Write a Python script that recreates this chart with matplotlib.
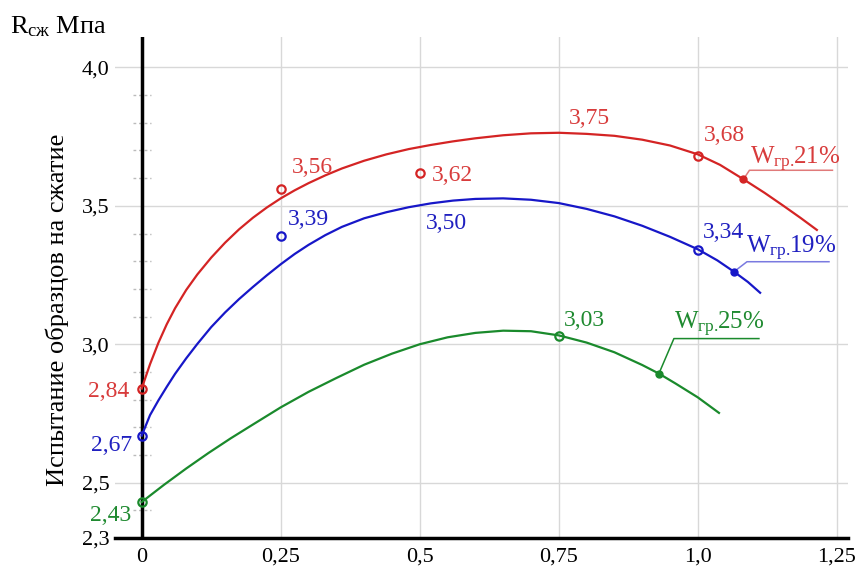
import numpy as np
import matplotlib
matplotlib.use("Agg")
import matplotlib.pyplot as plt

plt.rcParams['font.family'] = ['Liberation Serif', 'DejaVu Serif']
plt.rcParams['mathtext.fontset'] = 'custom'
plt.rcParams['mathtext.rm'] = 'Liberation Serif'
plt.rcParams['mathtext.it'] = 'Liberation Serif:italic'

# curves
red_x = [0, 0.015, 0.03, 0.045, 0.06, 0.08, 0.10, 0.125, 0.15, 0.175, 0.20, 0.225, 0.25,
         0.275, 0.30, 0.33, 0.36, 0.40, 0.44, 0.48, 0.52, 0.56, 0.60, 0.65, 0.70, 0.75,
         0.80, 0.85, 0.90, 0.95, 1.0, 1.04, 1.082, 1.12, 1.154, 1.185, 1.214]
red_y = [2.84, 2.928, 3.005, 3.072, 3.130, 3.196, 3.252, 3.313, 3.367, 3.415, 3.457, 3.494,
         3.527, 3.556, 3.582, 3.610, 3.635, 3.663, 3.686, 3.705, 3.720, 3.733, 3.744, 3.755,
         3.762, 3.764, 3.760, 3.753, 3.739, 3.718, 3.686, 3.648, 3.596, 3.547, 3.500, 3.456,
         3.413]

blue_x = [0, 0.015, 0.03, 0.045, 0.06, 0.08, 0.10, 0.125, 0.15, 0.175, 0.20, 0.225, 0.25,
          0.275, 0.30, 0.33, 0.36, 0.40, 0.44, 0.48, 0.52, 0.56, 0.60, 0.65, 0.70, 0.75,
          0.80, 0.85, 0.90, 0.95, 1.0, 1.035, 1.065, 1.09, 1.112]
blue_y = [2.67, 2.744, 2.797, 2.846, 2.893, 2.949, 3.001, 3.062, 3.115, 3.163, 3.207, 3.249,
          3.289, 3.326, 3.359, 3.394, 3.424, 3.455, 3.477, 3.495, 3.509, 3.519, 3.525, 3.527,
          3.522, 3.510, 3.489, 3.462, 3.428, 3.388, 3.343, 3.303, 3.262, 3.225, 3.186]

green_x = [0, 0.04, 0.08, 0.12, 0.16, 0.20, 0.25, 0.30, 0.35, 0.40, 0.45, 0.50, 0.55, 0.60,
           0.65, 0.70, 0.75, 0.80, 0.85, 0.90, 0.93, 0.96, 1.0, 1.038]
green_y = [2.43, 2.492, 2.551, 2.607, 2.660, 2.710, 2.772, 2.828, 2.878, 2.926, 2.966, 3.000,
           3.025, 3.041, 3.049, 3.047, 3.032, 3.006, 2.971, 2.925, 2.894, 2.858, 2.808, 2.752]

# measured points (open circles)
red_mx = [0, 0.25, 0.5, 1.0]
red_my = [2.84, 3.56, 3.62, 3.68]
blue_mx = [0, 0.25, 1.0]
blue_my = [2.67, 3.39, 3.34]
green_mx = [0, 0.75]
green_my = [2.43, 3.03]

# value labels: text, x, y
red_labels = [("2,84", 0, 2.84), ("3,56", 0.25, 3.56), ("3,62", 0.5, 3.62),
              ("3,75", 0.75, 3.75), ("3,68", 1.0, 3.68)]
blue_labels = [("2,67", 0, 2.67), ("3,39", 0.25, 3.39), ("3,50", 0.5, 3.50),
               ("3,34", 1.0, 3.34)]
green_labels = [("2,43", 0, 2.43), ("3,03", 0.75, 3.03)]

# series names and the curve point where their leader starts
names = [r"W$_{\mathrm{гр.}\!\!}$21%", r"W$_{\mathrm{гр.}\!\!}$19%", r"W$_{\mathrm{гр.}\!\!}$25%"]
tag_x = [1.082, 1.065, 0.93]
tag_y = [3.596, 3.262, 2.894]

yticks = [2.3, 2.5, 3.0, 3.5, 4.0]
ytick_labels = ["2,3", "2,5", "3,0", "3,5", "4,0"]
xticks = [0, 0.25, 0.5, 0.75, 1.0, 1.25]
xtick_labels = ["0", "0,25", "0,5", "0,75", "1,0", "1,25"]

RED, BLUE, GREEN = '#d42424', '#1717c8', '#1a8a2c'
RED_T, BLUE_T, GREEN_T = '#d83c3c', '#2020c0', '#1f8a30'

fig = plt.figure(figsize=(8.61, 5.72), dpi=100)
ax = fig.add_axes([115 / 861, 1 - 538 / 572, (848 - 115) / 861, (538 - 37) / 572])
ax.set_xlim(-0.048, 1.27)
ax.set_ylim(2.3, 4.11)

for s in ['top', 'right', 'left']:
    ax.spines[s].set_visible(False)
ax.spines['bottom'].set_linewidth(2.5)
ax.set_xticks(xticks)
ax.set_xticklabels(xtick_labels)
ax.set_yticks(yticks)
ax.set_yticklabels(ytick_labels)
ax.tick_params(axis='both', length=0, labelsize=16)
ax.tick_params(axis='x', pad=7)
ax.tick_params(axis='y', pad=4)
ax.grid(True, color='#d8d8d8', lw=1)
ax.set_axisbelow(True)

# small dashed minor marks across the vertical axis
minor = [v for v in np.round(np.arange(2.4, 4.05, 0.1), 1) if v not in yticks]
ax.hlines(minor, -0.016, 0.016, colors='#bbbbbb', linestyles=(0, (2, 2)), lw=1, zorder=2)
ax.axvline(0, color='black', lw=2.5, zorder=3)

series = [
    (red_x, red_y, red_mx, red_my, RED),
    (blue_x, blue_y, blue_mx, blue_my, BLUE),
    (green_x, green_y, green_mx, green_my, GREEN),
]
for cx, cy, mx, my, col in series:
    ax.plot(cx, cy, color=col, lw=1.6, zorder=4, solid_joinstyle='round')
    ax.plot(mx, my, 'o', ms=6, mfc='none', mec=col, mew=1.6, zorder=5)

# label offsets in pixels (dx, dy, ha)
offsets = {
    "2,84": (-12, -3, 'right'), "3,56": (11, 22, 'left'), "3,62": (12, -3, 'left'),
    "3,75": (10, 18, 'left'), "3,68": (6, 21, 'left'),
    "2,67": (-10, -10, 'right'), "3,39": (7, 17, 'left'), "3,50": (6, -18, 'left'),
    "3,34": (5, 18, 'left'),
    "2,43": (-10, -13, 'right'), "3,03": (5, 15, 'left'),
}
for labs, tcol in [(red_labels, RED_T), (blue_labels, BLUE_T), (green_labels, GREEN_T)]:
    for txt, x, y in labs:
        dx, dy, ha = offsets[txt]
        ax.annotate(txt, (x, y), xytext=(dx, dy), textcoords='offset pixels',
                    ha=ha, va='center', color=tcol, fontsize=17, zorder=6)


def shift(x, y, dx, dy):
    X, Y = ax.transData.transform((x, y))
    return ax.transData.inverted().transform((X + dx, Y + dy))


# leader geometry in pixels: corner (dx, dy), line length, text offset
leaders = [((6, 9), 89, (7, 15)), ((13, 10), 95, (12, 18)), ((15, 35), 100, (15, 44))]
lead_cols = ['#e07a7a', '#7a7ae0', GREEN]
for name, x, y, (corner, length, toff), col, lcol, tcol in zip(
        names, tag_x, tag_y, leaders, [RED, BLUE, GREEN], lead_cols, [RED_T, BLUE_T, GREEN_T]):
    ax.plot([x], [y], 'o', ms=5, color=col, zorder=5)
    c = shift(x, y, *corner)
    e = shift(x, y, length, corner[1])
    ax.plot([x, c[0], e[0]], [y, c[1], e[1]], color=lcol, lw=1.1, zorder=4)
    ax.annotate(name, (x, y), xytext=toff, textcoords='offset pixels',
                ha='left', va='baseline', color=tcol, fontsize=18, zorder=6)

fig.text(57 / 861, 1 - 310 / 572, "Испытание образцов на сжатие", rotation=90,
         ha='center', va='center', fontsize=19)
fig.text(10 / 861, 1 - 33 / 572, r"R$_{\mathrm{сж}}$ Мпа", ha='left', va='baseline',
         fontsize=19)

fig.savefig("out.png", dpi=100)
